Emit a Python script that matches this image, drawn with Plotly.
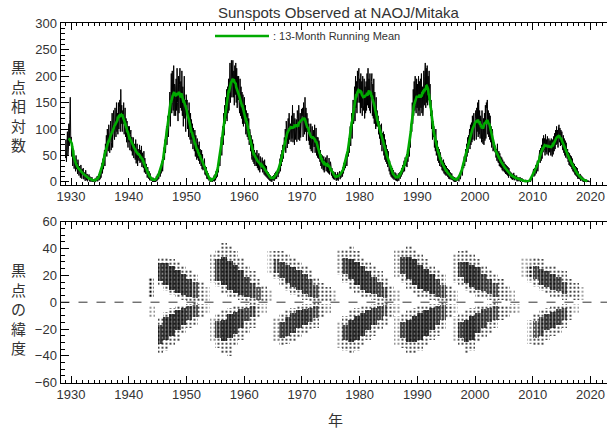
import numpy as np
import plotly.graph_objects as go

# ---------------- Monthly sunspot relative numbers (NAOJ/Mitaka) ----------------
FIRST_YEAR = 1929

SSN_1929_1939 = [
    [45, 80, 38, 70, 95, 50, 62, 110, 68, 118, 160, 78],      # 1929
    [85, 48, 66, 30, 52, 60, 25, 45, 32, 20, 50, 24],         # 1930
    [36, 15, 42, 26, 12, 30, 18, 8, 32, 16, 6, 24],           # 1931
    [20, 26, 5, 18, 10, 2, 22, 8, 3, 15, 1, 8],               # 1932
    [8, 14, 1, 10, 4, 0, 3, 9, 0, 2, 0, 5],                   # 1933
    [1, 6, 0, 0, 8, 2, 11, 1, 4, 14, 3, 16],                  # 1934
    [5, 20, 8, 28, 36, 16, 44, 24, 52, 60, 30, 72],           # 1935
    [56, 88, 48, 100, 70, 58, 108, 64, 55, 95, 115, 60],      # 1936
    [75, 130, 65, 110, 135, 90, 80, 140, 100, 85, 150, 95],   # 1937
    [130, 90, 150, 100, 140, 155, 95, 175, 110, 145, 95, 135],  # 1938
    [110, 150, 90, 125, 140, 85, 120, 75, 115, 85, 65, 105],  # 1939
]
SSN_1940S = [
    [75, 105, 60, 90, 98, 58, 85, 50, 78, 84, 45, 72],
    [70, 42, 80, 35, 65, 72, 30, 62, 44, 40, 70, 36],
    [60, 38, 68, 28, 55, 36, 26, 58, 18, 45, 24, 15],
    [34, 14, 8, 28, 20, 6, 20, 3, 16, 6, 2, 8],
    [2, 0, 8, 0, 2, 0, 6, 0, 3, 11, 1, 14],
    [4, 16, 6, 20, 24, 10, 30, 16, 36, 40, 20, 48],
    [35, 65, 42, 80, 55, 88, 105, 70, 115, 125, 85, 140],
    [120, 170, 105, 185, 205, 130, 210, 150, 135, 220, 125, 185],
    [180, 125, 195, 135, 215, 150, 115, 200, 130, 185, 215, 140],
    [190, 135, 210, 125, 180, 105, 165, 200, 120, 155, 95, 165],
]
SSN_1950S = [
    [145, 155, 100, 135, 85, 150, 95, 80, 130, 72, 118, 80],
    [110, 62, 102, 70, 58, 98, 48, 88, 55, 42, 82, 45],
    [70, 40, 76, 34, 62, 38, 30, 60, 24, 52, 22, 30],
    [36, 44, 14, 30, 12, 28, 6, 20, 5, 16, 3, 2],
    [1, 0, 8, 0, 1, 5, 0, 7, 2, 12, 1, 14],
    [3, 20, 7, 24, 10, 32, 18, 38, 48, 30, 60, 68],
    [85, 50, 100, 105, 70, 130, 88, 145, 110, 160, 120, 175],
    [115, 180, 130, 195, 135, 200, 225, 150, 205, 230, 160, 210],
    [230, 160, 210, 145, 220, 165, 225, 150, 215, 140, 200, 155],
    [200, 145, 130, 195, 125, 180, 120, 170, 110, 165, 105, 155],
]
SSN_1960S = [
    [160, 110, 145, 90, 135, 95, 85, 130, 80, 120, 70, 100],
    [95, 58, 88, 48, 42, 80, 38, 72, 34, 60, 30, 55],
    [52, 30, 60, 26, 50, 22, 54, 30, 18, 48, 28, 24],
    [36, 46, 18, 40, 22, 14, 42, 12, 32, 10, 30, 8],
    [20, 6, 18, 4, 15, 2, 12, 1, 9, 0, 11, 3],
    [3, 13, 2, 16, 5, 19, 14, 6, 18, 24, 9, 26],
    [16, 36, 44, 20, 52, 30, 60, 38, 70, 44, 78, 84],
    [62, 100, 55, 115, 98, 64, 108, 120, 72, 130, 80, 108],
    [110, 76, 125, 82, 145, 75, 112, 130, 70, 120, 80, 115],
    [118, 76, 135, 120, 80, 145, 110, 78, 130, 84, 118, 138],
]
SSN_1970S = [
    [125, 140, 85, 150, 125, 90, 160, 95, 140, 78, 130, 95],
    [120, 78, 110, 70, 98, 62, 110, 58, 92, 105, 55, 90],
    [98, 66, 108, 55, 90, 102, 50, 85, 46, 84, 44, 78],
    [66, 38, 60, 30, 52, 25, 50, 30, 22, 48, 18, 42],
    [28, 46, 20, 42, 50, 18, 36, 16, 45, 14, 34, 38],
    [30, 12, 26, 8, 20, 5, 19, 8, 4, 18, 6, 2],
    [14, 4, 18, 2, 12, 14, 20, 5, 16, 8, 19, 22],
    [10, 28, 16, 36, 22, 40, 26, 46, 52, 30, 58, 62],
    [48, 82, 55, 100, 105, 68, 118, 130, 82, 140, 155, 110],
    [125, 180, 115, 200, 140, 190, 130, 210, 150, 200, 215, 150],
]
SSN_1980S = [
    [195, 130, 205, 140, 190, 125, 200, 145, 135, 195, 120, 180],
    [130, 190, 135, 205, 145, 215, 140, 195, 135, 205, 130, 160],
    [190, 205, 125, 185, 120, 195, 110, 170, 125, 100, 160, 105],
    [135, 105, 125, 90, 115, 82, 108, 70, 95, 110, 58, 92],
    [85, 95, 50, 90, 42, 80, 38, 70, 34, 62, 28, 58],
    [42, 20, 40, 14, 32, 10, 30, 8, 26, 6, 22, 4],
    [6, 18, 3, 16, 2, 12, 1, 5, 16, 2, 13, 18],
    [6, 20, 10, 26, 14, 32, 18, 34, 40, 20, 46, 42],
    [30, 52, 28, 62, 38, 68, 75, 48, 85, 65, 100, 110],
    [95, 150, 110, 175, 125, 190, 135, 200, 145, 130, 195, 140],
]
SSN_1990S = [
    [185, 125, 200, 135, 190, 125, 195, 140, 205, 130, 180, 125],
    [140, 210, 145, 200, 225, 140, 215, 150, 220, 145, 200, 155],
    [210, 150, 185, 125, 155, 100, 135, 80, 115, 85, 105, 65],
    [92, 58, 100, 50, 70, 78, 40, 66, 36, 62, 30, 56],
    [50, 28, 46, 22, 40, 20, 42, 16, 36, 14, 32, 12],
    [30, 12, 26, 9, 24, 6, 22, 5, 18, 6, 4, 16],
    [12, 3, 10, 1, 9, 0, 8, 0, 6, 1, 2, 8],
    [3, 10, 1, 14, 16, 5, 18, 24, 28, 12, 32, 36],
    [26, 48, 30, 54, 62, 38, 72, 48, 84, 55, 88, 70],
    [100, 62, 108, 70, 112, 75, 125, 80, 115, 130, 78, 118],
]
SSN_2000S = [
    [120, 135, 80, 140, 95, 150, 85, 155, 90, 135, 82, 125],
    [118, 75, 135, 80, 72, 120, 70, 130, 78, 145, 82, 150],
    [140, 155, 90, 135, 85, 130, 80, 125, 75, 105, 65, 100],
    [95, 58, 80, 60, 74, 56, 68, 46, 62, 40, 72, 38],
    [36, 58, 30, 54, 28, 48, 26, 46, 22, 42, 20, 38],
    [38, 18, 34, 15, 32, 14, 30, 12, 28, 8, 26, 12],
    [20, 8, 18, 6, 16, 4, 14, 5, 17, 3, 13, 6],
    [11, 3, 12, 1, 9, 2, 8, 1, 6, 9, 0, 6],
    [3, 7, 0, 5, 0, 3, 0, 2, 0, 4, 1, 0],
    [0, 0, 1, 0, 2, 1, 4, 0, 6, 7, 3, 12],
]
SSN_2010S = [
    [16, 24, 10, 26, 12, 28, 32, 16, 34, 40, 20, 42],
    [30, 52, 60, 36, 64, 40, 70, 44, 82, 56, 88, 60],
    [82, 50, 90, 56, 80, 52, 86, 60, 50, 82, 56, 78],
    [78, 50, 82, 56, 48, 80, 52, 86, 58, 92, 62, 98],
    [70, 105, 72, 98, 65, 100, 108, 75, 102, 68, 98, 70],
    [95, 66, 60, 88, 55, 82, 50, 78, 46, 74, 50, 44],
    [62, 38, 56, 32, 54, 30, 50, 28, 48, 24, 44, 20],
    [36, 18, 34, 14, 30, 12, 28, 10, 26, 6, 20, 6],
    [13, 5, 15, 2, 12, 3, 10, 1, 8, 0, 6, 0],
    [4, 0, 5, 0, 2, 0, 3, 0, 2, 0, 0, 1],
]

# ---------------- Butterfly diagram: latitude bands of observed spots ----------------
# rows: (year, latitude edge 1, latitude edge 2, relative spot density 0..1)
WINGS_C17_18 = [
    (1943.8, 4, 18, 0.45), (1944.0, -2, -12, 0.2),
    (1945.5, 12, 34, 0.3), (1946.5, 8, 34, 0.3), (1947.5, 5, 32, 0.3), (1948.5, 3, 30, 0.3),
    (1949.5, 2, 27, 0.3), (1950.5, 1, 24, 0.3), (1951.5, 0, 21, 0.3), (1952.5, 1, 15, 0.3), (1953.5, 1, 11, 0.2),
    (1945.5, 16, 29, 0.8), (1946.5, 13, 29, 0.85), (1947.5, 9, 27, 0.9), (1948.5, 7, 24, 0.9),
    (1949.5, 5, 21, 0.85), (1950.5, 4, 17, 0.8), (1951.5, 3, 15, 0.6),
    (1945.5, -11, -38, 0.3), (1946.5, -7, -36, 0.3), (1947.5, -4, -32, 0.3), (1948.5, -3, -29, 0.3),
    (1949.5, -2, -24, 0.3), (1950.5, -1, -19, 0.3), (1951.5, 0, -17, 0.3), (1952.5, -1, -12, 0.3), (1953.5, -1, -9, 0.2),
    (1945.5, -17, -31, 0.8), (1946.5, -11, -28, 0.85), (1947.5, -9, -25, 0.9), (1948.5, -6, -21, 0.9),
    (1949.5, -4, -17, 0.85), (1950.5, -3, -13, 0.75), (1951.5, -2, -11, 0.6),
]
WINGS_C19 = [
    (1954.5, 14, 36, 0.25), (1955.5, 11, 40, 0.3), (1956.5, 7, 44, 0.3), (1957.5, 4, 43, 0.3), (1958.5, 3, 38, 0.3),
    (1959.5, 2, 33, 0.3), (1960.5, 1, 27, 0.3), (1961.5, 0, 23, 0.3), (1962.5, 0, 17, 0.3), (1963.5, 1, 12, 0.3), (1964.5, 1, 9, 0.2),
    (1955.5, 16, 32, 0.75), (1956.5, 13, 34, 0.9), (1957.5, 9, 31, 0.9), (1958.5, 7, 28, 0.9),
    (1959.5, 5, 24, 0.85), (1960.5, 4, 19, 0.8), (1961.5, 3, 14, 0.65), (1962.5, 2, 11, 0.5),
    (1954.5, -12, -30, 0.2), (1955.5, -8, -34, 0.3), (1956.5, -6, -38, 0.3), (1957.5, -4, -40, 0.3), (1958.5, -3, -33, 0.3),
    (1959.5, -2, -28, 0.3), (1960.5, -1, -24, 0.3), (1961.5, 0, -19, 0.3), (1962.5, -1, -12, 0.3), (1963.5, -1, -9, 0.2),
    (1955.5, -14, -27, 0.7), (1956.5, -13, -29, 0.9), (1957.5, -9, -27, 0.9), (1958.5, -7, -24, 0.85),
    (1959.5, -5, -19, 0.8), (1960.5, -4, -14, 0.7), (1961.5, -3, -11, 0.6),
]
WINGS_C20 = [
    (1964.5, 22, 38, 0.2), (1965.5, 17, 38, 0.3), (1966.5, 13, 38, 0.3), (1967.5, 8, 36, 0.3), (1968.5, 5, 33, 0.3),
    (1969.5, 3, 30, 0.3), (1970.5, 2, 28, 0.3), (1971.5, 1, 24, 0.3), (1972.5, 0, 19, 0.3), (1973.5, 1, 14, 0.35),
    (1974.5, 1, 11, 0.3), (1975.5, 1, 9, 0.2),
    (1965.5, 22, 32, 0.5), (1966.5, 18, 30, 0.8), (1967.5, 14, 28, 0.85), (1968.5, 11, 26, 0.85),
    (1969.5, 9, 24, 0.85), (1970.5, 6, 21, 0.8), (1971.5, 4, 17, 0.7), (1972.5, 3, 13, 0.6),
    (1965.5, -12, -30, 0.25), (1966.5, -9, -33, 0.3), (1967.5, -6, -31, 0.3), (1968.5, -4, -29, 0.3),
    (1969.5, -2, -27, 0.3), (1970.5, -1, -24, 0.3), (1971.5, -1, -21, 0.3), (1972.5, 0, -19, 0.3),
    (1973.5, -1, -12, 0.35), (1974.5, -1, -9, 0.25),
    (1966.5, -15, -27, 0.75), (1967.5, -11, -25, 0.8), (1968.5, -8, -23, 0.8), (1969.5, -6, -19, 0.85),
    (1970.5, -5, -17, 0.85), (1971.5, -4, -15, 0.75), (1972.5, -3, -12, 0.6),
]
WINGS_C21 = [
    (1976.5, 20, 40, 0.25), (1977.5, 14, 40, 0.3), (1978.5, 9, 42, 0.3), (1979.5, 6, 38, 0.3), (1980.5, 4, 34, 0.3),
    (1981.5, 3, 30, 0.3), (1982.5, 2, 27, 0.3), (1983.5, 1, 23, 0.3), (1984.5, 0, 19, 0.3), (1985.5, 1, 13, 0.3), (1986.5, 1, 9, 0.2),
    (1977.5, 21, 33, 0.7), (1978.5, 17, 32, 0.9), (1979.5, 13, 30, 0.9), (1980.5, 9, 27, 0.9),
    (1981.5, 7, 23, 0.85), (1982.5, 6, 19, 0.8), (1983.5, 4, 15, 0.7), (1984.5, 3, 11, 0.55),
    (1976.5, -14, -34, 0.2), (1977.5, -10, -36, 0.3), (1978.5, -6, -38, 0.3), (1979.5, -4, -36, 0.3), (1980.5, -3, -33, 0.3),
    (1981.5, -2, -28, 0.3), (1982.5, -1, -25, 0.3), (1983.5, 0, -21, 0.3), (1984.5, 0, -17, 0.3), (1985.5, -1, -11, 0.3), (1986.5, -1, -8, 0.2),
    (1977.5, -17, -28, 0.7), (1978.5, -13, -30, 0.9), (1979.5, -10, -28, 0.9), (1980.5, -8, -25, 0.9),
    (1981.5, -6, -21, 0.85), (1982.5, -4, -17, 0.8), (1983.5, -3, -13, 0.7), (1984.5, -2, -10, 0.5),
]
WINGS_C22 = [
    (1986.5, 18, 40, 0.25), (1987.5, 14, 40, 0.3), (1988.5, 9, 42, 0.3), (1989.5, 7, 40, 0.3), (1990.5, 4, 36, 0.3),
    (1991.5, 3, 32, 0.3), (1992.5, 2, 28, 0.3), (1993.5, 1, 25, 0.3), (1994.5, 0, 21, 0.3), (1995.5, 1, 13, 0.35), (1996.5, 1, 9, 0.25),
    (1987.5, 21, 34, 0.75), (1988.5, 17, 34, 0.9), (1989.5, 13, 32, 0.9), (1990.5, 10, 28, 0.9),
    (1991.5, 8, 25, 0.9), (1992.5, 6, 21, 0.85), (1993.5, 4, 17, 0.75), (1994.5, 3, 13, 0.6),
    (1986.5, -10, -32, 0.2), (1987.5, -9, -34, 0.3), (1988.5, -6, -38, 0.3), (1989.5, -4, -38, 0.3), (1990.5, -3, -36, 0.3),
    (1991.5, -2, -32, 0.3), (1992.5, -1, -28, 0.3), (1993.5, -1, -25, 0.3), (1994.5, 0, -21, 0.3), (1995.5, -1, -11, 0.35), (1996.5, -1, -8, 0.2),
    (1987.5, -15, -27, 0.7), (1988.5, -13, -30, 0.9), (1989.5, -10, -30, 0.9), (1990.5, -8, -28, 0.9),
    (1991.5, -6, -25, 0.9), (1992.5, -4, -21, 0.85), (1993.5, -3, -17, 0.75), (1994.5, -2, -13, 0.6),
]
WINGS_C23 = [
    (1996.5, 14, 36, 0.25), (1997.5, 13, 38, 0.3), (1998.5, 8, 40, 0.3), (1999.5, 6, 36, 0.3), (2000.5, 4, 32, 0.3),
    (2001.5, 3, 28, 0.3), (2002.5, 2, 25, 0.3), (2003.5, 1, 21, 0.3), (2004.5, 2, 17, 0.4), (2005.5, 1, 13, 0.3), (2006.5, 1, 10, 0.2),
    (1997.5, 19, 30, 0.75), (1998.5, 14, 30, 0.9), (1999.5, 11, 28, 0.9), (2000.5, 9, 26, 0.85),
    (2001.5, 8, 21, 0.75), (2002.5, 6, 17, 0.7), (2003.5, 4, 14, 0.6),
    (1996.5, -10, -30, 0.2), (1997.5, -9, -32, 0.3), (1998.5, -6, -38, 0.3), (1999.5, -4, -36, 0.3), (2000.5, -3, -30, 0.3),
    (2001.5, -2, -27, 0.3), (2002.5, -1, -23, 0.3), (2003.5, 0, -19, 0.3), (2004.5, -2, -13, 0.4), (2005.5, -2, -11, 0.3),
    (2006.5, -1, -9, 0.25), (2007.5, -1, -8, 0.15),
    (1997.5, -15, -27, 0.75), (1998.5, -13, -30, 0.9), (1999.5, -10, -28, 0.9), (2000.5, -8, -23, 0.8),
    (2001.5, -5, -19, 0.75), (2002.5, -4, -15, 0.7), (2003.5, -3, -13, 0.6),
]
WINGS_C24 = [
    (2008.5, 18, 34, 0.15), (2009.5, 14, 34, 0.25), (2010.5, 11, 34, 0.3), (2011.5, 8, 32, 0.3), (2012.5, 6, 28, 0.3),
    (2013.5, 4, 27, 0.3), (2014.5, 3, 25, 0.3), (2015.5, 2, 23, 0.3), (2016.5, 3, 17, 0.35), (2017.5, 2, 14, 0.3), (2018.5, 2, 11, 0.15),
    (2009.5, 18, 28, 0.45), (2010.5, 17, 27, 0.7), (2011.5, 13, 25, 0.8), (2012.5, 11, 23, 0.8),
    (2013.5, 9, 21, 0.8), (2014.5, 8, 19, 0.75), (2015.5, 6, 15, 0.6),
    (2009.5, -13, -31, 0.25), (2010.5, -8, -33, 0.3), (2011.5, -6, -32, 0.3), (2012.5, -4, -28, 0.3), (2013.5, -3, -25, 0.3),
    (2014.5, -2, -23, 0.3), (2015.5, -1, -19, 0.3), (2016.5, -2, -13, 0.3), (2017.5, -1, -9, 0.15),
    (2010.5, -14, -27, 0.5), (2011.5, -11, -25, 0.7), (2012.5, -9, -21, 0.8), (2013.5, -7, -19, 0.8),
    (2014.5, -5, -17, 0.75), (2015.5, -4, -13, 0.6),
]

TITLE = "Sunspots Observed at NAOJ/Mitaka"
LEGEND_TEXT = ": 13-Month Running Mean"
YTITLE_TOP = ["黒", "点", "相", "対", "数"]
YTITLE_BOTTOM = ["黒", "点", "の", "緯", "度"]
XTITLE = "年"

# ---------------- assemble ----------------
ssn = np.array(sum(SSN_1929_1939 + SSN_1940S + SSN_1950S + SSN_1960S + SSN_1970S
                   + SSN_1980S + SSN_1990S + SSN_2000S + SSN_2010S, []), dtype=float)
t = FIRST_YEAR + (np.arange(len(ssn)) + 0.5) / 12.0
smooth = np.convolve(ssn, np.ones(13) / 13.0, mode="valid")
t_smooth = t[6:-6]

rows = sorted(WINGS_C17_18 + WINGS_C19 + WINGS_C20 + WINGS_C21 + WINGS_C22 + WINGS_C23 + WINGS_C24,
              key=lambda r: r[3])
bx = [r[0] for r in rows]
bbase = [min(r[1], r[2]) for r in rows]
bh = [abs(r[2] - r[1]) for r in rows]
bd = np.array([r[3] for r in rows])
dense = bd >= 0.5

fig = go.Figure()
fig.add_trace(go.Scatter(x=t, y=ssn, mode="lines", line=dict(color="black", width=1),
                         xaxis="x", yaxis="y", showlegend=False, hoverinfo="skip"))
fig.add_trace(go.Scatter(x=t_smooth, y=smooth, mode="lines", line=dict(color="#00aa00", width=2.6),
                         xaxis="x", yaxis="y", showlegend=False))
fig.add_trace(go.Bar(x=bx, y=bh, base=bbase, width=1.0, xaxis="x2", yaxis="y2",
                     marker=dict(color="rgba(0,0,0,0)", line=dict(width=0),
                                 pattern=dict(shape=["|" if d else "." for d in dense],
                                              fgcolor="black", bgcolor="rgba(0,0,0,0)",
                                              size=[3 if d else 4 for d in dense],
                                              solidity=list(np.where(dense, np.minimum(bd * 0.8, 0.72), bd * 0.6)),
                                              fillmode="replace")),
                     showlegend=False))

XL, XR = 60.5 / 607, 1.0
axis_font = dict(family="Liberation Sans, Arial, sans-serif", size=13, color="#333333")
xcommon = dict(range=[1928.18, 2022.86], tick0=1930, dtick=10, ticks="inside", ticklen=7,
               tickcolor="black", showline=True, linecolor="black", linewidth=1, mirror="ticks",
               showgrid=False, zeroline=False, tickfont=axis_font, automargin=False,
               minor=dict(dtick=1, tick0=1930, ticks="inside", ticklen=3, tickcolor="black", showgrid=False))

fig.update_layout(
    width=607, height=430, autosize=False,
    margin=dict(l=0, r=0, t=0, b=0, autoexpand=False),
    paper_bgcolor="white", plot_bgcolor="white",
    barmode="overlay", bargap=0,
    xaxis=dict(domain=[XL, XR], anchor="y", **xcommon),
    yaxis=dict(domain=[1 - 184.5 / 430, 1 - 23.3 / 430], anchor="x", range=[-5, 300], tick0=0, dtick=50,
               ticks="inside", ticklen=8, tickcolor="black", showline=True, linecolor="black", linewidth=1,
               showgrid=False, zeroline=False, tickfont=axis_font, automargin=False,
               minor=dict(dtick=10, ticks="inside", ticklen=4, tickcolor="black", showgrid=False)),
    xaxis2=dict(domain=[XL, XR], anchor="y2", **xcommon),
    yaxis2=dict(domain=[1 - 382.7 / 430, 1 - 221.7 / 430], anchor="x2", range=[-60, 60], tick0=-60, dtick=20,
                ticks="inside", ticklen=8, tickcolor="black", showline=True, linecolor="black", linewidth=1,
                showgrid=False, zeroline=False, tickfont=axis_font, automargin=False,
                minor=dict(dtick=5, ticks="inside", ticklen=4, tickcolor="black", showgrid=False)),
)

fig.add_shape(type="line", xref="paper", yref="y2", x0=XL, x1=XR, y0=0, y1=0,
              line=dict(color="#333333", width=1, dash="dash"), layer="above")

cjk = "Noto Sans CJK JP"
fig.add_annotation(text=TITLE, xref="paper", yref="paper", x=339 / 607, y=1 - 13 / 430,
                   showarrow=False, xanchor="center", yanchor="middle",
                   font=dict(family="Liberation Sans, Arial, sans-serif", size=15, color="#333333"))
fig.add_shape(type="line", xref="paper", yref="paper", x0=215 / 607, x1=269 / 607,
              y0=1 - 36 / 430, y1=1 - 36 / 430, line=dict(color="#00aa00", width=2.6))
fig.add_annotation(text=LEGEND_TEXT, xref="paper", yref="paper", x=271 / 607, y=1 - 36 / 430,
                   showarrow=False, xanchor="left", yanchor="middle",
                   font=dict(family="Liberation Sans, Arial, sans-serif", size=11, color="#333333"))
fig.add_annotation(text="<br>".join(YTITLE_TOP), xref="paper", yref="paper", x=18 / 607, y=1 - 105 / 430,
                   showarrow=False, xanchor="center", yanchor="middle",
                   font=dict(family=cjk, size=15, color="#333333"))
fig.add_annotation(text="<br>".join(YTITLE_BOTTOM), xref="paper", yref="paper", x=18 / 607, y=1 - 308 / 430,
                   showarrow=False, xanchor="center", yanchor="middle",
                   font=dict(family=cjk, size=15, color="#333333"))
fig.add_annotation(text=XTITLE, xref="paper", yref="paper", x=335 / 607, y=1 - 419 / 430,
                   showarrow=False, xanchor="center", yanchor="middle",
                   font=dict(family=cjk, size=15, color="#333333"))

fig.write_html("out.html",
               config={"displayModeBar": False, "staticPlot": True},
               post_script="document.body.style.margin='0px';document.body.style.padding='0px';"
                           "document.documentElement.style.overflow='hidden';")
